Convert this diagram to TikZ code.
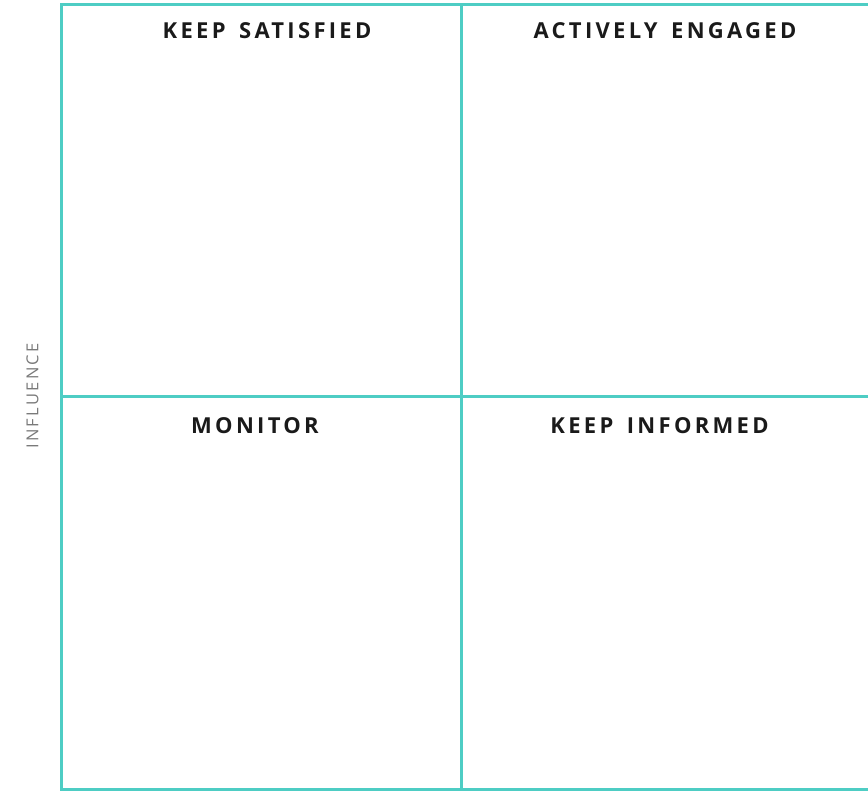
\documentclass[tikz,border=0pt]{standalone}
\usepackage{fontspec}
\setmainfont{Open Sans}
\newfontfamily\quadfont[LetterSpace=15,WordSpace=1.5]{Open Sans}
\newfontfamily\axisfont[LetterSpace=14]{Open Sans}
\definecolor{frame}{HTML}{4ECDC4}
\definecolor{ink}{HTML}{1A1A1A}
\definecolor{axis}{HTML}{7A7A7A}
\tikzset{
  grid line/.style={draw=frame, line width=3pt},
  quad label/.style={anchor=base, inner sep=0pt, text=ink, font=\quadfont\fontsize{22}{26}\selectfont\bfseries},
  axis label/.style={anchor=center, inner sep=0pt, text=axis, font=\axisfont\fontsize{16.5}{20}\selectfont, rotate=90}
}
\begin{document}
\begin{tikzpicture}[x=1pt,y=-1pt]
\useasboundingbox (0,0) rectangle (868,795);
\clip (0,0) rectangle (868,795);
\coordinate (tl) at (61.5,4);
\coordinate (tm) at (461.5,4);
\coordinate (tr) at (900,4);
\coordinate (ml) at (61.5,396.5);
\coordinate (mr) at (900,396.5);
\coordinate (bl) at (61.5,789.5);
\coordinate (bm) at (461.5,789.5);
\coordinate (br) at (900,789.5);
\draw[grid line] (tr) -- (tl) -- (bl) -- (br);
\draw[grid line] (tm) -- (bm);
\draw[grid line] (ml) -- (mr);
\node[quad label] (ks) at (267,38.3) {KEEP SATISFIED};
\node[quad label] (ae) at (665,38.3) {ACTIVELY ENGAGED};
\node[quad label] (mo) at (255,433.3) {MONITOR};
\node[quad label] (ki) at (659.5,433.3) {KEEP INFORMED};
\node[axis label] (inf) at (32.5,396) {INFLUENCE};
\end{tikzpicture}
\end{document}
